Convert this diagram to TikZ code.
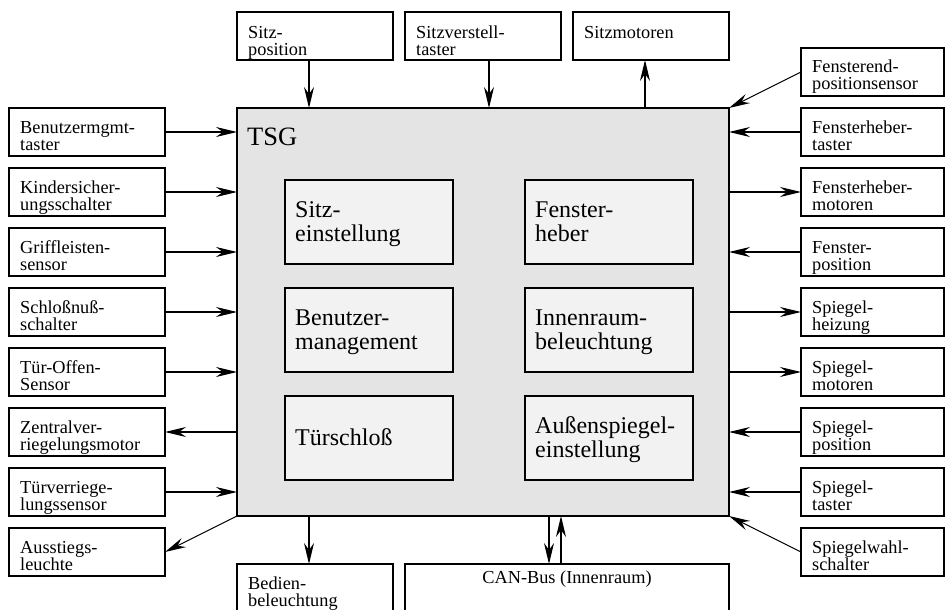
\documentclass[tikz,border=0pt]{standalone}
\usepackage{fontspec}
\setmainfont{Liberation Serif}
\usetikzlibrary{arrows.meta,calc}
\tikzset{
  obox/.style={draw, line width=1.2pt, inner sep=0pt, outer sep=0pt, anchor=north west, fill=white},
  tsgbox/.style={draw, line width=1.2pt, inner sep=0pt, outer sep=0pt, anchor=north west, fill=tsggray},
  ibox/.style={draw, line width=1.2pt, inner sep=0pt, outer sep=0pt, anchor=north west, fill=innergray,
    minimum width=168pt, minimum height=84pt},
  olbl/.style={inner sep=0pt, anchor=base west, text width=150pt, align=left,
    font=\fontsize{18.3}{17}\selectfont},
  ilbl/.style={inner sep=0pt, anchor=base west, text width=158pt, align=left,
    font=\fontsize{24}{24}\selectfont},
  arr/.style={line width=1.1pt, -{Stealth[length=21pt,width=10pt,inset=7pt]}},
}
\definecolor{tsggray}{gray}{0.895}
\definecolor{innergray}{gray}{0.95}
\begin{document}
\begin{tikzpicture}[x=1pt,y=-1pt]
\useasboundingbox (0,0) rectangle (945,610);
\clip (0,0) rectangle (945,610);
\fill[white] (0,0) rectangle (945,610);

% TSG
\node[tsgbox, minimum width=492pt, minimum height=408pt] (T) at (237,108) {};
\node[inner sep=0pt, anchor=base west, font=\fontsize{26.5}{26.5}\selectfont] (Tl) at (247,145.7) {TSG};

% inner boxes
\node[ibox] (I1) at (285,180) {};
\node[ibox] (I2) at (525,180) {};
\node[ibox] (I3) at (285,288) {};
\node[ibox] (I4) at (525,288) {};
\node[ibox] (I5) at (285,396) {};
\node[ibox] (I6) at (525,396) {};
\node[ilbl] (I1t) at ($(I1.west)+(10,-5)$) {Sitz-\\einstellung};
\node[ilbl] (I2t) at ($(I2.west)+(10,-5)$) {Fenster-\\heber};
\node[ilbl] (I3t) at ($(I3.west)+(10,-5)$) {Benutzer-\\management};
\node[ilbl] (I4t) at ($(I4.west)+(10,-5)$) {Innenraum-\\beleuchtung};
\node[ilbl] (I5t) at ($(I5.west)+(10,7)$) {Türschloß};
\node[ilbl] (I6t) at ($(I6.west)+(10,-5)$) {Außenspiegel-\\einstellung};

% top boxes
\node[obox, minimum width=156pt, minimum height=48pt] (S1) at (237,12) {};
\node[obox, minimum width=156pt, minimum height=48pt] (S2) at (405,12) {};
\node[obox, minimum width=156pt, minimum height=48pt] (S3) at (573,12) {};
\node[olbl] (S1t) at ($(S1.north west)+(11,26.5)$) {Sitz-\\position};
\node[olbl] (S2t) at ($(S2.north west)+(11,26.5)$) {Sitzverstell-\\taster};
\node[olbl] (S3t) at ($(S3.north west)+(11,26.5)$) {Sitzmotoren};

% bottom boxes
\node[obox, minimum width=156pt, minimum height=60pt] (B1) at (237,564) {};
\node[obox, minimum width=324pt, minimum height=60pt] (B2) at (405,564) {};
\node[olbl] (B1t) at ($(B1.north west)+(11,25)$) {Bedien-\\beleuchtung};
\node[inner sep=0pt, anchor=base, font=\fontsize{18.3}{17}\selectfont] (B2t) at ($(B2.north)+(0,19)$) {CAN-Bus (Innenraum)};

% left boxes
\foreach \i/\t in {1/{Benutzermgmt-\\taster},2/{Kindersicher-\\ungsschalter},3/{Griffleisten-\\sensor},
  4/{Schloßnuß-\\schalter},5/{Tür-Offen-\\Sensor},6/{Zentralver-\\riegelungsmotor},
  7/{Türverriege-\\lungssensor},8/{Ausstiegs-\\leuchte}}{
  \node[obox, minimum width=156pt, minimum height=48pt] (L\i) at (9,{108+60*(\i-1)}) {};
  \node[olbl] (L\i t) at ($(L\i.north west)+(11,25)$) {\t};
}

% right boxes
\foreach \i/\t in {1/{Fensterend-\\positionsensor},2/{Fensterheber-\\taster},3/{Fensterheber-\\motoren},
  4/{Fenster-\\position},5/{Spiegel-\\heizung},6/{Spiegel-\\motoren},
  7/{Spiegel-\\position},8/{Spiegel-\\taster},9/{Spiegelwahl-\\schalter}}{
  \node[obox, minimum width=143pt, minimum height=48pt] (R\i) at (801,{48+60*(\i-1)}) {};
  \node[olbl] (R\i t) at ($(R\i.north west)+(11,25)$) {\t};
}

% x positions of vertical connectors
\coordinate (x1) at (309,0);
\coordinate (x2) at (489,0);
\coordinate (x3) at (645,0);
\coordinate (x4) at (549,0);
\coordinate (x5) at (561,0);

% top connectors
\draw[arr] (S1.south -| x1) -- (T.north -| x1);
\draw[arr] (S2.south -| x2) -- (T.north -| x2);
\draw[arr] (T.north -| x3) -- (S3.south -| x3);

% bottom connectors
\draw[arr] (T.south -| x1) -- (B1.north -| x1);
\draw[arr] (T.south -| x4) -- (B2.north -| x4);
\draw[arr] (B2.north -| x5) -- (T.south -| x5);

% left connectors
\foreach \i in {1,2,3,4,5,7}{
  \draw[arr] (L\i.east) -- (L\i.east -| T.west);
}
\draw[arr] (L6.east -| T.west) -- (L6.east);
\draw[arr] (T.south west) -- (L8.east);

% right connectors
\draw[arr] (R1.west) -- (T.north east);
\foreach \i in {2,4,7,8}{
  \draw[arr] (R\i.west) -- (R\i.west -| T.east);
}
\foreach \i in {3,5,6}{
  \draw[arr] (R\i.west -| T.east) -- (R\i.west);
}
\draw[arr] (R9.west) -- (T.south east);
\end{tikzpicture}
\end{document}
